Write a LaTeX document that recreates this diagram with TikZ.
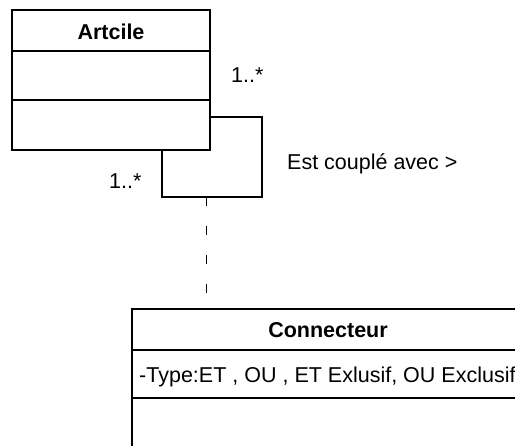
\documentclass[tikz,border=0pt]{standalone}
\usepackage{fontspec}
\setmainfont{Liberation Sans}
\begin{document}
\begin{tikzpicture}[x=1pt,y=-1pt,
  box/.style={draw=black,line width=1.3pt,inner sep=0pt},
  sep/.style={draw=black,line width=1.3pt},
  assoc/.style={draw=black,line width=1.2pt},
  dep/.style={draw=black,line width=1pt,dash pattern=on 9pt off 20pt},
  title/.style={font=\bfseries\fontsize{21.5}{24}\selectfont,inner sep=0pt},
  lbl/.style={font=\fontsize{21.5}{24}\selectfont,inner sep=0pt,anchor=west}]
\useasboundingbox (0,0) rectangle (515,446);
\clip (0,0) rectangle (515,446);
% Artcile class
\node[box,minimum width=198pt,minimum height=140pt] (art) at (111,80) {};
\node[title] (artname) at (111,32) {Artcile};
\draw[sep] (12,51) -- (210,51);
\draw[sep] (12,100) -- (210,100);
% self association
\coordinate (l1) at (210,117);
\coordinate (l2) at (262,197);
\coordinate (l3) at (162,150);
\coordinate (mid) at (206,197);
\draw[assoc] (l1) -| (l2) -| (l3);
\node[lbl] (m1) at (231,75) {1..*};
\node[lbl] (m2) at (109,181) {1..*};
\node[lbl] (name) at (287,164) {Est couplé avec >};
% Connecteur class
\node[box,minimum width=400pt,minimum height=160pt] (con) at (332,389) {};
\coordinate (dend) at (206,295);
\draw[dep] (mid) -- (dend);
\node[title] (conname) at (328,330) {Connecteur};
\draw[sep] (132,350) -- (532,350);
\draw[sep] (132,398) -- (532,398);
\node[lbl] (attr) at (139,377) {-Type:ET , OU , ET Exlusif, OU Exclusif};
\end{tikzpicture}
\end{document}
